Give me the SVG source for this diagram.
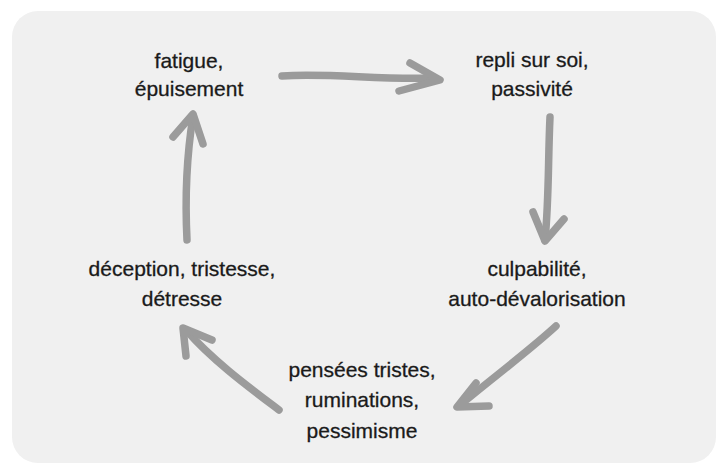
<svg xmlns="http://www.w3.org/2000/svg" width="718" height="465" viewBox="0 0 718 465">
<defs>
<style>
.bg{fill:#f0f0f0}
.lbl{font-family:"Liberation Sans",Arial,sans-serif;font-size:21px;fill:#1a1a1a;stroke:#1a1a1a;stroke-width:0.3;text-anchor:middle}
.arr{fill:none;stroke:#9b9b9b;stroke-width:7.5;stroke-linecap:round;stroke-linejoin:round}
</style>
</defs>
<rect width="718" height="465" fill="#ffffff"/>
<rect class="bg" x="12" y="11" width="704" height="452" rx="26" ry="26"/>
<g id="connectors">
<path class="arr" d="M282 76 C330 73 380 80 432 78"/>
<path class="arr" d="M410 63 L440 80 L399 91"/>
<path class="arr" d="M550 117 C548 160 549 200 545 240"/>
<path class="arr" d="M533 212 L545 241 L564 219"/>
<path class="arr" d="M556 326 C530 350 490 380 459 406"/>
<path class="arr" d="M476 383 L457 407 L489 406"/>
<path class="arr" d="M279 410 C250 388 212 360 187 331"/>
<path class="arr" d="M186 356 L183 328 L212 340"/>
<path class="arr" d="M187 240 C185 200 186 160 193 116"/>
<path class="arr" d="M173 137 L193 114 L203 144"/>
</g>
<g id="n1"><text class="lbl" x="189" y="68">fatigue,</text><text class="lbl" x="189" y="96">épuisement</text></g>
<g id="n2"><text class="lbl" x="532" y="67">repli sur soi,</text><text class="lbl" x="532" y="96">passivité</text></g>
<g id="n3"><text class="lbl" x="537" y="276">culpabilité,</text><text class="lbl" x="537" y="306">auto-dévalorisation</text></g>
<g id="n4"><text class="lbl" x="362" y="377">pensées tristes,</text><text class="lbl" x="362" y="407">ruminations,</text><text class="lbl" x="362" y="438">pessimisme</text></g>
<g id="n5"><text class="lbl" x="182" y="276">déception, tristesse,</text><text class="lbl" x="182" y="306">détresse</text></g>
</svg>
